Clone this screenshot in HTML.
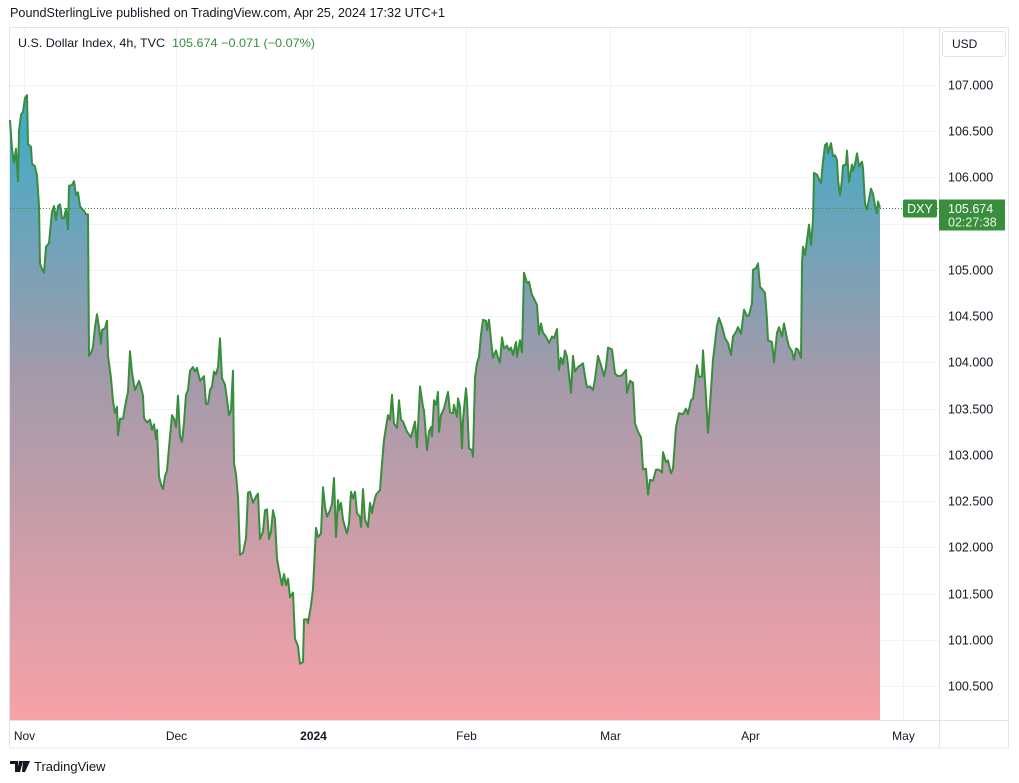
<!DOCTYPE html>
<html><head><meta charset="utf-8"><style>
html,body{margin:0;padding:0;background:#fff;width:1019px;height:783px;overflow:hidden}
svg{display:block;font-family:"Liberation Sans",sans-serif}
</style></head><body>
<svg id="c" width="1019" height="783" viewBox="0 0 1019 783">
<defs><linearGradient id="g" x1="0" y1="95" x2="0" y2="720" gradientUnits="userSpaceOnUse">
<stop offset="0" stop-color="#39adc9"/><stop offset="0.45" stop-color="#a39aaa"/><stop offset="1" stop-color="#f8a1a8"/></linearGradient></defs>
<text x="10" y="17" font-size="12.5" fill="#131722" textLength="435" lengthAdjust="spacingAndGlyphs">PoundSterlingLive published on TradingView.com, Apr 25, 2024 17:32 UTC+1</text>
<rect x="9.5" y="27.5" width="999" height="720" fill="none" stroke="#e0e3eb"/>
<line x1="9" y1="748" x2="1009" y2="748" stroke="#f0f3fa" stroke-width="2"/>
<g id="grid"></g>
<path id="area" fill="url(#g)"/>
<line id="last" stroke="#388e3c" stroke-dasharray="1 2"/>
<path id="line" fill="none" stroke="#388e3c" stroke-width="2" stroke-linejoin="round"/>
<line x1="939.5" y1="28" x2="939.5" y2="747" stroke="#e0e3eb"/>
<line x1="10" y1="720.5" x2="1008" y2="720.5" stroke="#e0e3eb"/>
<g id="yax"></g>
<g id="xax"></g>
<text x="18" y="47" font-size="12" fill="#131722" textLength="147" lengthAdjust="spacingAndGlyphs">U.S. Dollar Index, 4h, TVC</text>
<text x="172" y="47" font-size="12" fill="#388e3c" textLength="143" lengthAdjust="spacingAndGlyphs">105.674  −0.071 (−0.07%)</text>
<rect x="942.5" y="31.5" width="63" height="25" rx="3" fill="#fff" stroke="#e0e3eb"/>
<text x="952" y="48" font-size="12" fill="#131722">USD</text>
<g id="tags"></g>
<g>
<path d="M10 761h8v11h-3v-8h-5z M19 761h4l-3 11h-3z M23 761h7l-5 11h-3z" fill="#131722"/>
<text x="34" y="771" font-size="13" fill="#131722">TradingView</text></g>
</svg>
<script>
const times=[0,2,4,6,8,9,11,13,15,17,18,21,22,25,27,29,30,32,34,36,39,42,44,46,48,50,52,54,56,58,59,62,64,66,68,70,72,74,76,78,79,81,83,85,87,89,91,92,95,97,98,101,103,105,107,108,110,113,116,118,120,122,125,127,129,131,133,134,137,140,142,144,146,147,149,151,153,155,157,160,162,164,166,168,170,172,174,176,178,180,183,185,187,190,194,196,198,200,202,204,206,208,210,212,215,217,219,221,223,224,226,228,230,233,236,238,240,243,246,248,250,253,255,257,259,261,263,265,267,269,272,274,276,278,280,283,285,288,290,293,294,297,298,301,303,306,308,311,313,315,317,320,322,324,326,328,329,331,333,335,337,339,341,343,345,347,350,351,353,355,358,360,362,363,366,370,372,374,376,378,380,382,384,387,389,391,393,397,401,405,407,410,413,414,417,419,421,422,424,426,428,429,431,434,438,440,443,444,447,448,450,452,453,456,457,459,462,463,465,467,469,471,473,476,477,479,481,483,486,488,490,492,494,497,499,501,503,506,507,510,512,514,517,519,522,524,527,529,531,533,536,539,542,544,547,549,551,553,555,557,558,561,563,565,568,573,575,577,580,583,585,588,591,594,596,598,602,605,608,612,616,617,620,623,625,628,631,633,636,638,640,643,646,649,652,653,656,658,661,663,666,669,673,676,678,681,683,685,687,689,692,693,696,698,701,703,705,707,709,712,715,718,721,723,726,728,731,734,737,739,742,743,746,748,750,753,755,757,758,762,764,767,769,772,774,777,779,782,784,786,788,791,792,793,795,797,799,801,803,804,807,809,811,813,815,817,818,821,823,825,827,828,830,832,833,836,837,839,842,843,845,847,849,852,853,855,857,861,863,865,867,868,870];
const prices=[106.62,106.31,106.16,106.31,105.96,106.50,106.68,106.71,106.86,106.89,106.36,106.33,106.15,106.12,106.02,105.69,105.07,105.01,104.97,105.25,105.29,105.63,105.69,105.54,105.69,105.71,105.56,105.56,105.66,105.44,105.91,105.92,105.96,105.81,105.84,105.69,105.66,105.64,105.60,105.60,104.07,104.10,104.17,104.38,104.52,104.38,104.20,104.35,104.37,104.45,104.07,103.83,103.58,103.45,103.52,103.21,103.39,103.39,103.58,103.68,104.12,103.89,103.70,103.75,103.80,103.73,103.64,103.40,103.35,103.38,103.27,103.33,103.17,103.27,102.77,102.68,102.63,102.77,102.83,103.20,103.43,103.39,103.30,103.64,103.20,103.14,103.35,103.65,103.70,103.91,103.95,103.90,103.94,103.80,103.85,103.55,103.55,103.70,103.74,103.90,103.87,103.95,104.26,103.83,103.76,103.60,103.43,103.48,103.91,102.91,102.79,102.54,101.92,101.94,102.10,102.59,102.60,102.48,102.55,102.58,102.09,102.17,102.40,102.41,102.09,102.17,102.40,102.30,101.88,101.75,101.59,101.71,101.59,101.66,101.46,101.51,101.01,100.93,100.74,100.76,101.22,101.22,101.18,101.37,101.55,102.21,102.11,102.15,102.65,102.44,102.33,102.40,102.47,102.75,102.11,102.51,102.40,102.48,102.30,102.22,102.15,102.26,102.60,102.53,102.60,102.37,102.33,102.22,102.63,102.30,102.22,102.48,102.37,102.44,102.57,102.62,102.91,103.16,103.30,103.43,103.38,103.65,103.34,103.29,103.59,103.38,103.36,103.25,103.19,103.36,103.08,103.74,103.52,103.48,103.05,103.25,103.30,103.20,103.59,103.54,103.68,103.25,103.43,103.50,103.68,103.46,103.45,103.54,103.41,103.61,103.52,103.07,103.38,103.72,103.59,103.07,103.05,102.98,103.84,103.99,104.06,104.30,104.46,104.45,104.35,104.46,104.24,104.05,104.13,104.05,104.00,104.27,104.15,104.18,104.13,104.16,104.08,104.22,104.06,104.24,104.11,104.97,104.86,104.87,104.73,104.69,104.62,104.30,104.42,104.32,104.28,104.21,104.28,104.26,104.36,103.92,104.05,103.98,104.13,104.06,103.97,103.67,104.07,103.90,103.95,103.99,103.85,103.73,103.74,103.70,103.82,104.07,103.97,103.85,103.95,104.16,104.14,103.88,103.85,103.86,103.92,103.67,103.80,103.78,103.34,103.25,103.19,102.84,102.85,102.57,102.73,102.72,102.84,102.84,102.81,103.03,102.92,102.94,102.80,102.85,103.30,103.45,103.44,103.50,103.44,103.59,103.61,103.78,103.97,103.84,103.85,104.13,103.63,103.24,103.70,104.03,104.21,104.40,104.48,104.39,104.26,104.21,104.08,104.28,104.33,104.38,104.31,104.57,104.50,104.51,104.64,105.00,105.02,105.07,104.82,104.78,104.75,104.46,104.24,104.22,104.00,104.32,104.38,104.28,104.42,104.26,104.17,104.12,104.03,104.15,104.14,104.05,105.07,105.25,105.16,105.32,105.49,105.27,105.54,106.05,106.03,105.98,105.94,106.17,106.35,106.37,106.26,106.37,106.23,106.24,106.19,105.97,105.81,105.97,106.13,106.14,106.29,105.95,106.14,106.07,106.14,106.26,106.12,106.17,106.10,105.72,105.65,105.88,105.82,105.70,105.61,105.74,105.674];
const yTicks=[100.5,101,101.5,102,102.5,103,103.5,104,104.5,105,105.5,106,106.5,107];
const xTickPos=[14,166,303,456,600,740,893];
const xTickLabels=["Nov","Dec","2024","Feb","Mar","Apr","May"];
const lastPrice=105.674;
const countdown="02:27:38";
const NS="http://www.w3.org/2000/svg";
const X=t=>10+t;
const Y=p=>85+(107-p)*92.46;
function mk(tag,attrs,parent,txt){const e=document.createElementNS(NS,tag);for(const k in attrs)e.setAttribute(k,attrs[k]);if(txt!=null)e.textContent=txt;parent.appendChild(e);return e;}
const grid=document.getElementById('grid'),yax=document.getElementById('yax'),xax=document.getElementById('xax'),tags=document.getElementById('tags');
yTicks.forEach(v=>{const y=Math.round(Y(v))+0.5;
const l=mk('line',{x1:10,x2:939,y1:y,y2:y,stroke:'#f0f3fa'},grid);


const t=mk('text',{x:948,y:y+4,'font-size':12.5,fill:'#131722'},yax,v.toFixed(3));

});
xTickPos.forEach((p,i)=>{const x=Math.round(X(p))+0.5;
const l=mk('line',{x1:x,x2:x,y1:28,y2:720,stroke:'#f0f3fa'},grid);


const t=mk('text',{x:x,y:740,'font-size':12,'text-anchor':'middle',fill:'#131722','font-weight':xTickLabels[i]==='2024'?'bold':'normal'},xax,xTickLabels[i]);

});
let d='';times.forEach((t,i)=>{d+=(i?'L':'M')+X(t).toFixed(1)+' '+Y(prices[i]).toFixed(1);});
document.getElementById('line').setAttribute('d',d);
document.getElementById('area').setAttribute('d',d+'L'+X(times[times.length-1])+' 720L'+X(times[0])+' 720Z');
const ly=Math.round(Y(lastPrice))+0.5;
const ll=document.getElementById('last');ll.setAttribute('x1',10);ll.setAttribute('x2',939);ll.setAttribute('y1',ly);ll.setAttribute('y2',ly);
const r1=mk('rect',{x:903,y:ly-9,width:34,height:18,rx:2,fill:'#388e3c'},tags);


const t1=mk('text',{x:920,y:ly+4.5,'font-size':12.5,fill:'#fff','text-anchor':'middle'},tags,'DXY');


const r2=mk('rect',{x:939,y:ly-9,width:66,height:31,fill:'#388e3c'},tags);


const t2=mk('text',{x:948,y:ly+4.5,'font-size':12.5,fill:'#fff'},tags,lastPrice.toFixed(3));


const t3=mk('text',{x:948,y:ly+18,'font-size':12.5,fill:'#e8f5e9'},tags,countdown);


</script>
</body></html>
